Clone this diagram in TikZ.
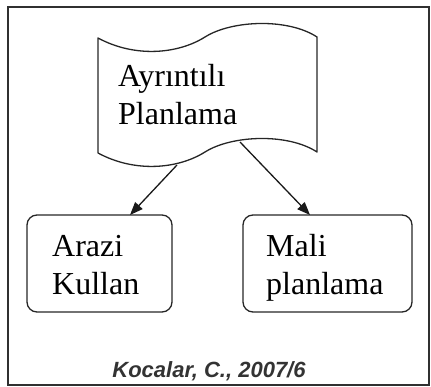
\documentclass[tikz,border=0pt]{standalone}
\usepackage{fontspec}
\setmainfont{Liberation Serif}
\newfontfamily\capfont{Liberation Sans}
\usetikzlibrary{arrows.meta,fit}
\definecolor{framegray}{HTML}{303030}
\definecolor{capgray}{HTML}{333333}
\begin{document}
\begin{tikzpicture}[x=1pt,y=-1pt,
  shapeline/.style={draw=black!85, line width=1.3pt},
  box/.style={shapeline, rounded corners=10pt, inner sep=0pt},
  txt/.style={anchor=base west, inner sep=0pt,
    font=\fontsize{32}{38}\selectfont},
  arr/.style={draw=black!90, line width=1.3pt,
    -{Triangle[length=13pt,width=10pt]}}]
  \useasboundingbox (0,0) rectangle (431,387);
  % outer frame
  \draw[framegray, line width=2pt] (8,7) rectangle (429,385);
  % document (wavy) shape
  \draw[shapeline, line join=round]
    (98,38) .. controls (135,58) and (178,54) .. (205,37)
            .. controls (232,20) and (288,18) .. (317,37)
    -- (317,152)
            .. controls (288,133) and (232,135) .. (205,152)
            .. controls (178,169) and (135,173) .. (98,153)
    -- cycle;
  \node[txt] (doc1) at (118,87) {Ayrıntılı};
  \node[txt] (doc2) at (118,125) {Planlama};
  \coordinate (docL) at (177,165);
  \coordinate (docR) at (240,142);
  % target boxes
  \node[box, fit={(27,215) (172,312)}] (arazi) {};
  \node[box, fit={(243,215) (412,312)}] (mali) {};
  \node[txt] (arazi1) at (52,257) {Arazi};
  \node[txt] (arazi2) at (52,295) {Kullan};
  \node[txt] (mali1) at (266,257) {Mali};
  \node[txt] (mali2) at (266,295) {planlama};
  \coordinate (araziIn) at (130,215);
  \coordinate (maliIn) at (310,215);
  % connectors
  \draw[arr] (docL) -- (araziIn);
  \draw[arr] (docR) -- (maliIn);
  % source note
  \node[anchor=base, inner sep=0pt, text=capgray,
    font=\capfont\bfseries\itshape\fontsize{22}{26}\selectfont] (src)
    at (209,377) {Kocalar, C., 2007/6};
\end{tikzpicture}
\end{document}
